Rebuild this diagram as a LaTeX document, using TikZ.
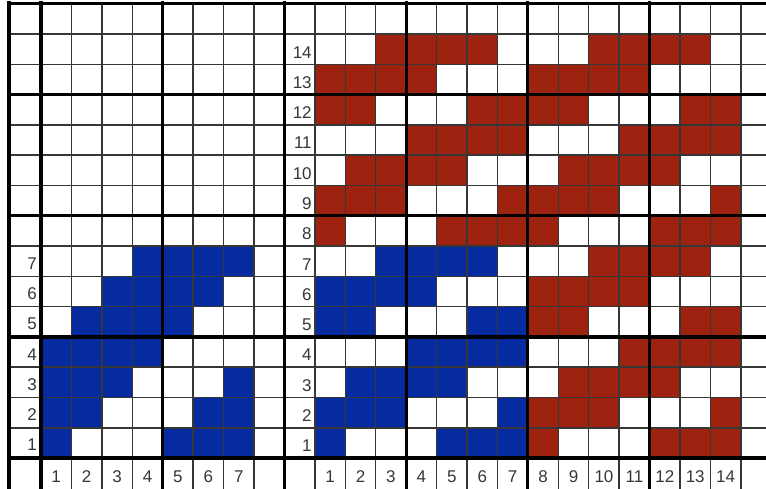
\documentclass[tikz,border=0pt]{standalone}
\usepackage{fontspec}
\setmainfont{Liberation Sans}
\definecolor{wred}{RGB}{158,34,16}
\definecolor{wblue}{RGB}{6,42,160}
\definecolor{thingray}{RGB}{55,55,55}
\definecolor{labtxt}{RGB}{55,55,55}
\begin{document}
\begin{tikzpicture}[
  thinline/.style={line width=1.5pt, draw=thingray},
  thickline/.style={line width=3.2pt, draw=black},
  lab/.style={font=\fontsize{17}{20}\selectfont, text=labtxt, inner sep=0pt}]
\useasboundingbox (0,0) rectangle (766pt,-489pt);
\clip (0,0) rectangle (766pt,-489pt);
\fill[white] (0,0) rectangle (766pt,-489pt);
\begin{scope}[shift={(10.57pt,-3.71pt)}, x=30.43pt, y=-30.29pt]
  % left block (blue)
  \foreach \row [count=\k] in {{4,5,6,7},{3,4,5,6},{2,3,4,5},{1,2,3,4},{1,2,3,7},{1,2,6,7},{1,5,6,7}}
    \foreach \j in \row
      \fill[wblue] (\j,7+\k) rectangle ++(1,1);
  % right block: four quadrants with the same pattern
  \foreach \co/\ro/\cl in {9/0/wred,16/0/wred,9/7/wblue,16/7/wred}
    \foreach \row [count=\k] in {{3,4,5,6},{1,2,3,4},{1,2,6,7},{4,5,6,7},{2,3,4,5},{1,2,3,7},{1,5,6,7}}
      \foreach \j in \row
        \fill[\cl] (\co+\j,\ro+\k) rectangle ++(1,1);
  % thin grid lines
  \foreach \c in {2,3,4,6,7,8,10,11,12,14,15,16,18,19,20,22,23,24}
    \draw[thinline] (\c,0) -- (\c,16.5);
  \foreach \r in {1,2,4,5,6,8,9,10,12,13,14}
    \draw[thinline] (-0.05,\r) -- (25.2,\r);
  % thick grid lines
  \foreach \c in {-0.05,1,5,9,13,17,21}
    \draw[thickline] (\c,-0.1) -- (\c,16.5);
  \foreach \r in {0,3,7,11,15}
    \draw[thickline] (-0.1,\r) -- (25.2,\r);
  % labels
  \foreach \n in {1,...,7}
    \node[lab,anchor=east,xshift=-4pt] (ll\n) at (1,15.57-\n) {\n};
  \foreach \n in {1,...,14}
    \node[lab,anchor=east,xshift=-3pt] (rl\n) at (10,15.6-\n) {\n};
  \foreach \n in {1,...,7}
    \node[lab] (bl\n) at (\n+0.5,15.6) {\n};
  \foreach \n in {1,...,14}
    \node[lab] (br\n) at (\n+9.5,15.6) {\n};
\end{scope}
\end{tikzpicture}
\end{document}
